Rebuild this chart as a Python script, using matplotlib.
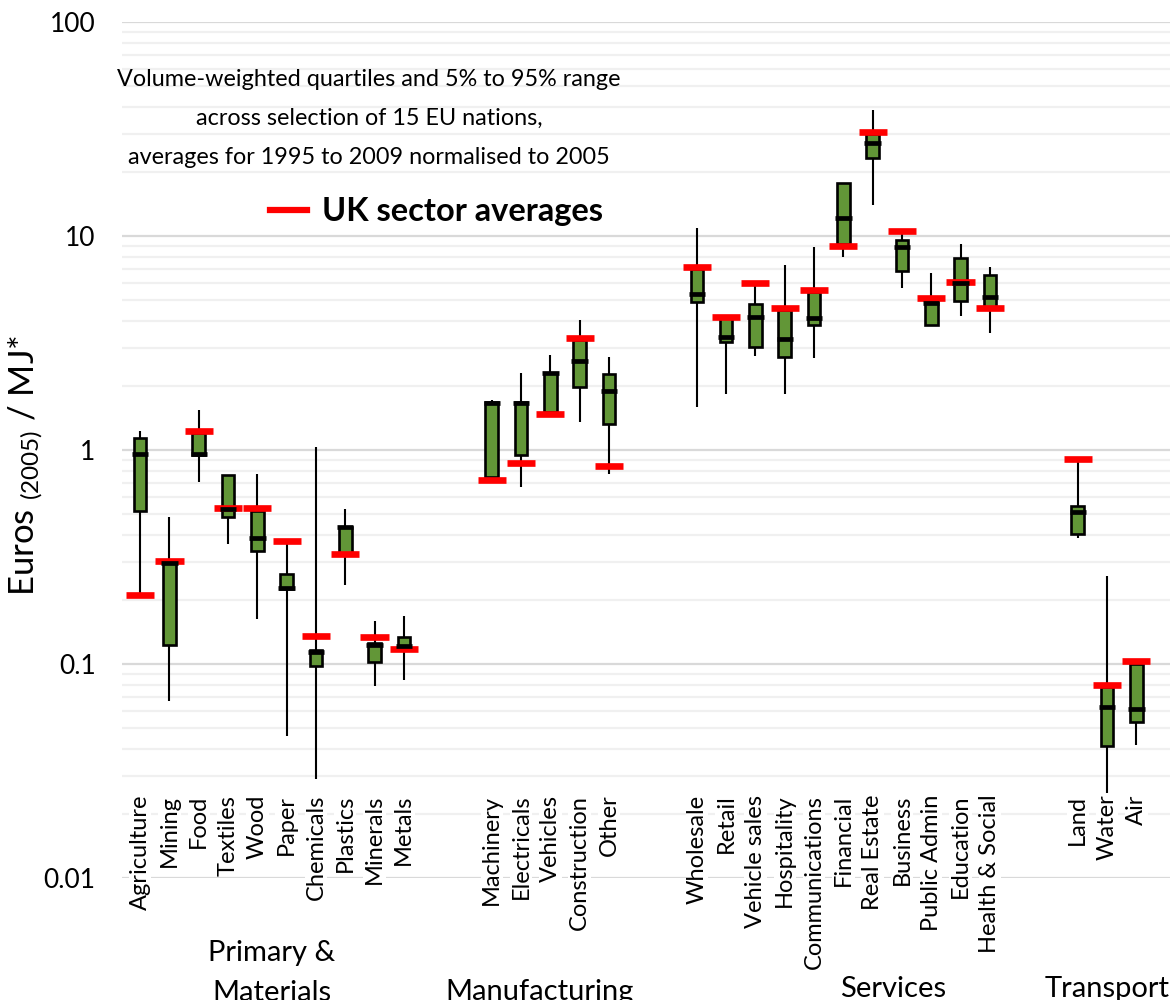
import matplotlib
matplotlib.use("Agg")
import matplotlib.pyplot as plt
from matplotlib.ticker import FixedLocator, NullFormatter
from matplotlib.lines import Line2D
import numpy as np

plt.rcParams['font.family'] = ['Lato', 'DejaVu Sans']
plt.rcParams['mathtext.default'] = 'regular'

cats = ["Agriculture", "Mining", "Food", "Textiles", "Wood", "Paper", "Chemicals",
        "Plastics", "Minerals", "Metals",
        "Machinery", "Electricals", "Vehicles", "Construction", "Other",
        "Wholesale", "Retail", "Vehicle sales", "Hospitality", "Communications",
        "Financial", "Real Estate", "Business", "Public Admin", "Education",
        "Health & Social",
        "Land", "Water", "Air"]
slot = [0, 1, 2, 3, 4, 5, 6, 7, 8, 9,
        12, 13, 14, 15, 16,
        19, 20, 21, 22, 23, 24, 25, 26, 27, 28, 29,
        32, 33, 34]

p5 = [0.21, 0.067, 0.71, 0.364, 0.163, 0.046, 0.029, 0.234, 0.079, 0.084,
      0.73, 0.674, 1.5, 1.35, 0.772,
      1.59, 1.82, 2.75, 1.82, 2.70, 8.0, 13.96, 5.73, 3.82, 4.24, 3.51,
      0.39, 0.025, 0.042]
q1 = [0.519, 0.123, 0.95, 0.488, 0.337, 0.224, 0.098, 0.325, 0.102, 0.119,
      0.75, 0.944, 1.51, 1.98, 1.32,
      4.92, 3.20, 3.02, 2.71, 3.82, 9.2, 23.1, 6.84, 3.82, 4.97, 4.65,
      0.405, 0.0414, 0.0538]
med = [0.955, 0.298, 0.955, 0.528, 0.389, 0.226, 0.114, 0.438, 0.123, 0.121,
       1.65, 1.66, 2.30, 2.61, 1.89,
       5.36, 3.36, 4.20, 3.29, 4.15, 12.2, 27.1, 8.91, 4.85, 6.0, 5.17,
       0.515, 0.0628, 0.0618]
q3 = [1.14, 0.30, 1.20, 0.764, 0.52, 0.263, 0.116, 0.438, 0.126, 0.134,
      1.68, 1.68, 2.30, 3.28, 2.26,
      7.0, 4.15, 4.80, 4.5, 5.5, 17.7, 30.0, 9.58, 4.9, 7.86, 6.57,
      0.547, 0.078, 0.10]
p95 = [1.23, 0.488, 1.54, 0.764, 0.772, 0.366, 1.036, 0.528, 0.159, 0.168,
       1.72, 2.28, 2.78, 4.05, 2.71,
       10.9, 4.2, 6.0, 7.32, 8.91, 17.7, 38.8, 10.3, 6.69, 9.14, 7.19,
       0.908, 0.258, 0.10]
uk = [0.209, 0.302, 1.23, 0.534, 0.534, 0.377, 0.1356, 0.326, 0.133, 0.1175,
      0.724, 0.866, 1.47, 3.35, 0.842,
      7.14, 4.20, 6.01, 4.59, 5.59, 9.01, 30.7, 10.5, 5.11, 6.07, 4.59,
      0.908, 0.0798, 0.103]

yticks = [0.01, 0.1, 1, 10, 100]
ytick_labels = ["0.01", "0.1", "1", "10", "100"]
note_lines = ["Volume-weighted quartiles and 5% to 95% range",
              "across selection of 15 EU nations,",
              "averages for 1995 to 2009 normalised to 2005"]

x = np.array(slot, dtype=float)

W, H = 1175, 1000
fig = plt.figure(figsize=(W / 100, H / 100), dpi=100)
ax = fig.add_axes([122 / W, 0.122, 1048 / W, 0.856])

ax.set_yscale('log')
ax.set_ylim(0.01, 100)
ax.set_xlim(-0.62, 35.15)

# gridlines
ax.yaxis.set_major_locator(FixedLocator(yticks))
minors = [m * 10.0**e for e in range(-2, 2) for m in range(2, 10)]
ax.yaxis.set_minor_locator(FixedLocator(minors))
ax.yaxis.set_minor_formatter(NullFormatter())
ax.set_yticklabels(ytick_labels, fontsize=19)
ax.grid(True, which='major', axis='y', color='#d9d9d9', lw=1.6, zorder=0)
ax.grid(True, which='minor', axis='y', color='#f0f0f0', lw=1.6, zorder=0)
ax.tick_params(axis='y', which='both', length=0, pad=19)
ax.set_xticks([])
for s in ax.spines.values():
    s.set_visible(False)
ax.set_axisbelow(True)

# 5-95 whiskers, quartile boxes, UK averages, medians
ax.vlines(x, p5, p95, color='black', lw=1.5, zorder=2)
ax.bar(x, np.array(q3) - np.array(q1), bottom=q1, width=0.43,
       color='#629637', edgecolor='black', lw=1.9, zorder=3)
ax.hlines(uk, x - 0.48, x + 0.48, color='#ff0000', lw=4.8, zorder=4)
ax.hlines(med, x - 0.28, x + 0.28, color='black', lw=3.4, zorder=5)

# sector labels
for xi, c in zip(x, cats):
    ax.text(xi, 0.0245, c, rotation=90, ha='center', va='top', fontsize=17,
            bbox=dict(fc='white', ec='none', pad=0.5), zorder=6)

# group labels
def ftext(px, py, s, **kw):
    fig.text(px / W, 1 - py / H, s, **kw)

ftext(272, 961, "Primary &", ha='center', va='baseline', fontsize=21)
ftext(272, 1001, "Materials", ha='center', va='baseline', fontsize=21)
ftext(540, 1000, "Manufacturing", ha='center', va='baseline', fontsize=21)
ftext(893, 997, "Services", ha='center', va='baseline', fontsize=21)
ftext(1107, 997, "Transport", ha='center', va='baseline', fontsize=21)

ax.set_ylabel("Euros $_{(2005)}$ / MJ*", fontsize=25)
ax.yaxis.set_label_coords(-0.0735, 0.4825)

for py, line in zip([80, 118, 158], note_lines):
    ftext(369, py, line, ha='center', va='center', fontsize=16.8)
fig.add_artist(Line2D([270 / W, 307 / W], [1 - 210 / H, 1 - 210 / H],
                      color='#ff0000', lw=4.5, transform=fig.transFigure))
ftext(322, 212, "UK sector averages", ha='left', va='center',
      fontsize=23.5, fontweight='bold')

fig.savefig("out.png", dpi=100)
